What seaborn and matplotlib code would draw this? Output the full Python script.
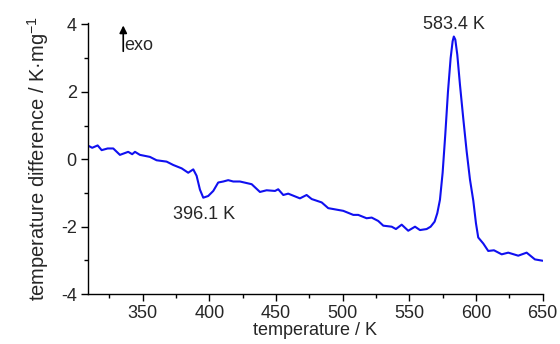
import matplotlib
matplotlib.use("Agg")
import matplotlib.pyplot as plt
import seaborn as sns
import pandas as pd
from matplotlib.ticker import MultipleLocator

temperature = [309.8, 312.2, 316.3, 319.3, 323.8, 328.0, 333.0, 339.2, 342.2, 344.3,
               348.0, 355.5, 360.5, 368.0, 373.0, 379.3, 384.2, 388.0, 390.5, 393.0,
               395.5, 399.2, 403.0, 406.7, 410.5, 414.2, 418.0, 423.0, 431.8, 438.0,
               443.0, 449.3, 451.7, 455.5, 459.2, 468.0, 473.0, 476.8, 484.3, 489.2,
               500.5, 508.0, 511.7, 518.0, 521.8, 526.7, 530.5, 536.8, 540.0, 544.3,
               549.2, 554.3, 558.0, 563.0, 566.0, 569.0, 571.0, 573.0, 575.0, 577.0,
               579.0, 581.0, 582.5, 583.4, 584.5, 586.0, 588.0, 590.5, 593.0, 595.5,
               598.0, 600.0, 601.7, 605.5, 609.2, 613.5, 619.3, 624.2, 631.7, 638.0,
               644.2, 650.0]
temp_diff = [0.39, 0.34, 0.41, 0.27, 0.32, 0.32, 0.13, 0.22, 0.15, 0.22,
             0.13, 0.07, -0.03, -0.07, -0.17, -0.27, -0.40, -0.30, -0.49, -0.90,
             -1.14, -1.09, -0.94, -0.69, -0.66, -0.62, -0.66, -0.66, -0.74, -0.97,
             -0.92, -0.94, -0.89, -1.06, -1.02, -1.16, -1.06, -1.18, -1.28, -1.45,
             -1.53, -1.65, -1.65, -1.75, -1.73, -1.83, -1.97, -2.00, -2.07, -1.94,
             -2.12, -2.00, -2.10, -2.07, -2.00, -1.85, -1.60, -1.20, -0.40, 0.74,
             2.00, 3.00, 3.50, 3.64, 3.55, 3.10, 2.21, 1.20, 0.24, -0.60,
             -1.23, -1.90, -2.32, -2.50, -2.72, -2.70, -2.82, -2.77, -2.86, -2.77,
             -2.97, -3.01]

df = pd.DataFrame({"T": temperature, "dT": temp_diff})

sns.set_style("ticks")
plt.rcParams['font.family'] = ['Liberation Sans', 'DejaVu Sans']
plt.rcParams['axes.unicode_minus'] = False
plt.rcParams['mathtext.fontset'] = 'custom'
plt.rcParams['mathtext.rm'] = 'Liberation Sans'

FS = 13
fig = plt.figure(figsize=(5.6, 3.44), dpi=100)
ax = fig.add_axes([0.157, 0.145, 0.812, 0.789])
sns.lineplot(data=df, x="T", y="dT", ax=ax, color="#1010f0", linewidth=1.5)

ax.set_xlim(309, 650)
ax.set_ylim(-4, 4.05)
ax.xaxis.set_major_locator(MultipleLocator(50))
ax.xaxis.set_minor_locator(MultipleLocator(25))
ax.yaxis.set_major_locator(MultipleLocator(2))
ax.yaxis.set_minor_locator(MultipleLocator(1))
ax.tick_params(which="major", direction="out", length=5, width=1, labelsize=FS,
               color="black", pad=3)
ax.tick_params(which="minor", direction="out", length=3, width=1, color="black")
for s in ["top", "right"]:
    ax.spines[s].set_visible(False)
for s in ["left", "bottom"]:
    ax.spines[s].set_color("black")
    ax.spines[s].set_linewidth(1)

ax.set_xlabel("temperature / K", fontsize=FS, labelpad=0)
ax.set_ylabel("temperature difference / K·mg$^{\\mathrm{-1}}$", fontsize=14.5, labelpad=7)

ax.annotate("", xy=(335.5, 4.05), xytext=(335.5, 3.12), annotation_clip=False,
            arrowprops=dict(arrowstyle="-|>", color="black", lw=1.2, mutation_scale=11))
ax.text(336.5, 3.12, "exo", fontsize=FS, ha="left", va="bottom")
ax.text(396.1, -1.4, "396.1 K", fontsize=FS, ha="center", va="top")
ax.text(583.4, 3.75, "583.4 K", fontsize=FS, ha="center", va="bottom")

fig.savefig("out.png", dpi=100)
